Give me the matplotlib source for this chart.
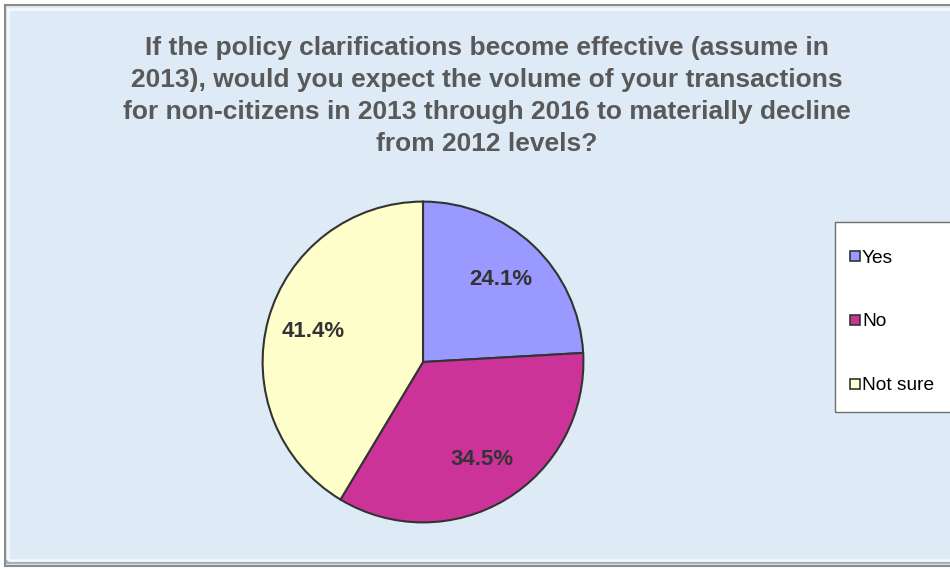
import matplotlib.pyplot as plt
from matplotlib.patches import Rectangle

plt.rcParams['font.family'] = ['Liberation Sans', 'DejaVu Sans']

# data
labels = ["Yes", "No", "Not sure"]
shares = [24.1, 34.5, 41.4]
colors = ["#9999ff", "#cc3399", "#ffffcc"]
title = ("If the policy clarifications become effective (assume in\n"
         "2013), would you expect the volume of your transactions\n"
         "for non-citizens in 2013 through 2016 to materially decline\n"
         "from 2012 levels?")

W, H = 950, 569
fig = plt.figure(figsize=(W / 100, H / 100), dpi=100, facecolor="white")


def px(x, y):
    # pixel coords (top-left origin) -> figure fraction
    return x / W, 1 - y / H


# chart area frame (bevelled look)
fig.patches.append(Rectangle(px(5, 566), 1.0, 561 / H, transform=fig.transFigure,
                             facecolor="#deeaf5", edgecolor="#8a8a8a", lw=1.5, zorder=-3))
fig.patches.append(Rectangle(px(8, 560), 1.0, 551 / H, transform=fig.transFigure,
                             facecolor="none", edgecolor="#f4f8fc", lw=2, zorder=-2))
fig.lines.append(plt.Line2D([8 / W, 1], [1 - 562 / H, 1 - 562 / H], transform=fig.transFigure,
                            color="#a8b2bc", lw=3, zorder=-2))

# title
fig.text(487 / W, 1 - 36 / H, title, ha="center", va="top", fontsize=19,
         fontweight="bold", color="#595959", linespacing=1.42)

# pie
R = 162
cx, cy = 423, 362
ax = fig.add_axes([(cx - R) / W, (H - cy - R) / H, 2 * R / W, 2 * R / H])
wedges, texts, autotexts = ax.pie(shares, colors=colors, startangle=90, counterclock=False,
                                  autopct="%.1f%%", pctdistance=0.71, radius=1,
                                  wedgeprops=dict(edgecolor="#333333", linewidth=1.5))
for t in autotexts:
    t.set_fontsize(16)
    t.set_fontweight("bold")
    t.set_color("#333333")
ax.set_xlim(-1.01, 1.01)
ax.set_ylim(-1.01, 1.01)
ax.set_aspect("equal")
ax.axis("off")

# legend, drawn by hand so it runs off the right edge like the original
fig.patches.append(Rectangle(px(835, 412), 0.2, 190 / H, transform=fig.transFigure,
                             facecolor="white", edgecolor="#6e6e6e", lw=1.0, zorder=1))
for i, (lab, col) in enumerate(zip(labels, colors)):
    ty = 257 + i * 64
    fig.patches.append(Rectangle(px(850, ty + 4), 10 / W, 10 / H, transform=fig.transFigure,
                                 facecolor=col, edgecolor="#333333", lw=1.2, zorder=2))
    fig.text(*px(862, ty + 1), lab, ha="left", va="center", fontsize=13.8, color="black", zorder=2)

fig.savefig("out.png", dpi=100, facecolor=fig.get_facecolor())
